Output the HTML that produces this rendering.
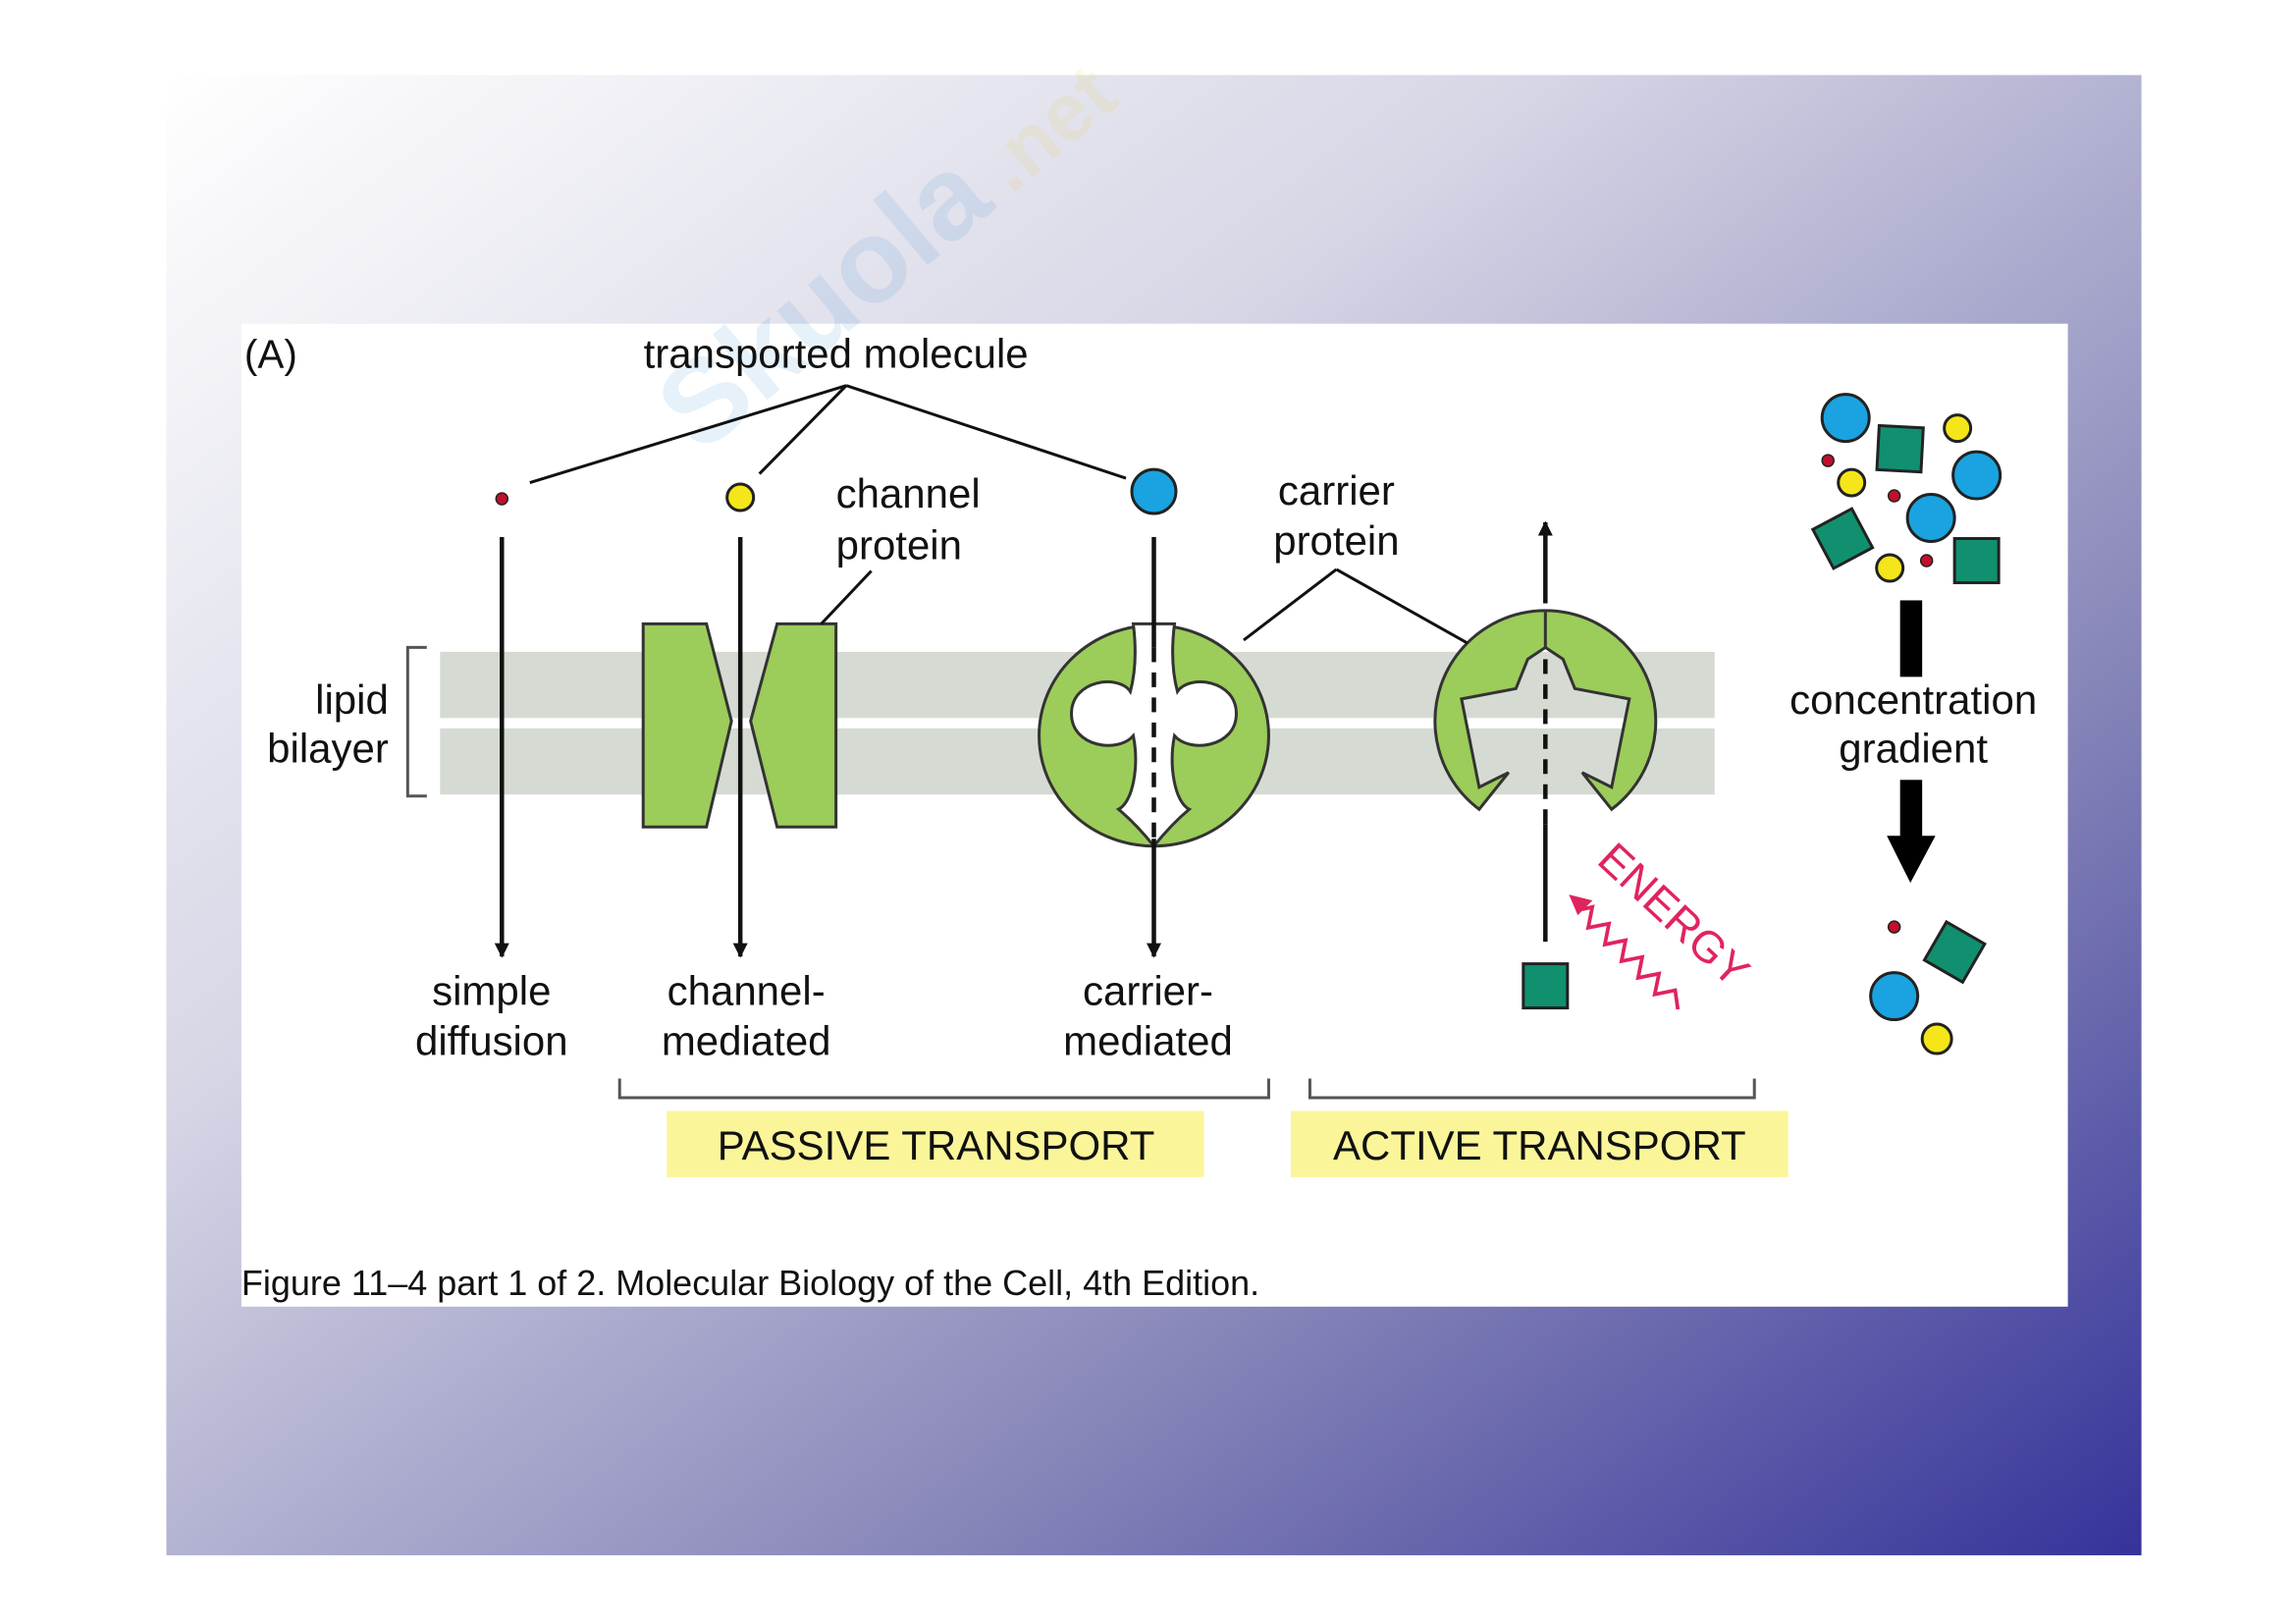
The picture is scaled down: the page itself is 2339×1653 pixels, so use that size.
<!DOCTYPE html>
<html><head><meta charset="utf-8"><style>
html,body{margin:0;padding:0;background:#fff;}
svg{display:block;}
text{font-family:"Liberation Sans",sans-serif;fill:#111;}
</style></head><body>
<svg width="2339" height="1653" viewBox="0 0 1560 1103" preserveAspectRatio="none" xmlns="http://www.w3.org/2000/svg">
<defs>
<linearGradient id="bg" x1="0" y1="0" x2="1" y2="1">
<stop offset="0" stop-color="#ffffff"/>
<stop offset="0.35" stop-color="#d6d6e6"/>
<stop offset="0.7" stop-color="#8584b8"/>
<stop offset="1" stop-color="#35339a"/>
</linearGradient>
<marker id="ah" viewBox="0 0 10 10" refX="9" refY="5" markerWidth="10" markerHeight="12" markerUnits="userSpaceOnUse" orient="auto"><path d="M0,0 L10,5 L0,10 z" fill="#111"/></marker>
</defs>
<rect x="113" y="51" width="1342" height="1006" fill="url(#bg)"/>
<rect x="164" y="220" width="1241" height="668" fill="#fff"/>
<!-- watermark -->
<g transform="translate(540,230) rotate(-40)" opacity="0.12">
<text x="-100" y="20" font-size="80" font-weight="bold" style="fill:#3a8fd0">Skuola</text>
<text x="175" y="20" font-size="55" font-weight="bold" style="fill:#e8d040">.net</text>
</g>
<text x="166" y="250" font-size="27">(A)</text>
<text x="568" y="250" font-size="28" text-anchor="middle">transported molecule</text>
<g stroke="#111" stroke-width="2" fill="none">
<line x1="575" y1="262" x2="360" y2="328"/>
<line x1="575" y1="262" x2="516" y2="322"/>
<line x1="575" y1="262" x2="765" y2="325"/>
</g>
<!-- bilayer -->
<rect x="299" y="443" width="866" height="45" fill="#d5dbd3"/>
<rect x="299" y="495" width="866" height="45" fill="#d5dbd3"/>
<path d="M290,440 H277 V541 H290" stroke="#555" stroke-width="2" fill="none"/>
<text x="264" y="485" font-size="28" text-anchor="end">lipid</text>
<text x="264" y="518" font-size="28" text-anchor="end">bilayer</text>
<!-- molecules -->
<circle cx="341" cy="339" r="4" fill="#c0102a" stroke="#222" stroke-width="1"/>
<circle cx="503" cy="338" r="9" fill="#f4e619" stroke="#222" stroke-width="2"/>
<circle cx="784" cy="334" r="15" fill="#1aa3e0" stroke="#222" stroke-width="2"/>
<!-- channel protein -->
<polygon points="437,424 480,424 497,490 480,562 437,562" fill="#9ccc5a" stroke="#333" stroke-width="2"/>
<polygon points="568,424 528,424 510,490 528,562 568,562" fill="#9ccc5a" stroke="#333" stroke-width="2"/>
<text x="568" y="345" font-size="28">channel</text>
<text x="568" y="380" font-size="28">protein</text>
<line x1="592" y1="388" x2="558" y2="424" stroke="#111" stroke-width="2"/>
<!-- carrier 1 -->
<ellipse cx="784" cy="500" rx="78" ry="75" fill="#9ccc5a" stroke="#333" stroke-width="2"/>
<path d="M770,424 C772,440 772,455 768,470 C760,458 728,462 728,485 C728,508 760,512 770,500 C774,520 770,545 760,550 C772,560 780,570 784,575 C788,570 796,560 808,550 C798,545 794,520 798,500 C808,512 840,508 840,485 C840,462 808,458 800,470 C796,455 796,440 798,424 Z" fill="#fff" stroke="#333" stroke-width="2"/>
<!-- carrier 2 -->
<path d="M1005,550 A75,75 0 1 1 1095,550 L1075,525 L1095,535 L1107,475 L1070,468 L1062,448 L1050,440 L1038,448 L1030,468 L993,475 L1005,535 L1025,525 Z" fill="#9ccc5a" stroke="#333" stroke-width="2"/>
<line x1="1050" y1="416" x2="1050" y2="440" stroke="#333" stroke-width="2"/>
<text x="908" y="343" font-size="28" text-anchor="middle">carrier</text>
<text x="908" y="377" font-size="28" text-anchor="middle">protein</text>
<g stroke="#111" stroke-width="2" fill="none">
<line x1="908" y1="387" x2="845" y2="435"/>
<line x1="908" y1="387" x2="997" y2="437"/>
</g>
<!-- arrows -->
<g stroke="#111" stroke-width="3" fill="none">
<line x1="341" y1="365" x2="341" y2="650" marker-end="url(#ah)"/>
<line x1="503" y1="365" x2="503" y2="650" marker-end="url(#ah)"/>
<line x1="784" y1="365" x2="784" y2="440"/>
<line x1="784" y1="440" x2="784" y2="570" stroke-dasharray="10,7"/>
<line x1="784" y1="570" x2="784" y2="650" marker-end="url(#ah)"/>
<line x1="1050" y1="640" x2="1050" y2="560"/>
<line x1="1050" y1="560" x2="1050" y2="445" stroke-dasharray="10,7"/>
<line x1="1050" y1="410" x2="1050" y2="355" marker-end="url(#ah)"/>
</g>
<rect x="1035" y="655" width="30" height="30" fill="#119070" stroke="#222" stroke-width="2"/>
<!-- energy -->
<text transform="translate(1084,586) rotate(43)" font-size="30" style="fill:#e0245e">ENERGY</text>
<polyline points="1075,618 1081.9,616.4 1079.1,630.5 1093.2,627.7 1090.4,641.9 1104.5,639 1101.7,653.2 1115.8,650.4 1113,664.5 1127.2,661.7 1124.3,675.8 1138.2,673 1140,686" fill="none" stroke="#e0245e" stroke-width="2.5"/>
<polygon points="1066,608 1082,612 1072,622" fill="#e0245e"/>
<!-- labels -->
<g font-size="28" text-anchor="middle">
<text x="334" y="683">simple</text><text x="334" y="717">diffusion</text>
<text x="507" y="683">channel-</text><text x="507" y="717">mediated</text>
<text x="780" y="683">carrier-</text><text x="780" y="717">mediated</text>
</g>
<path d="M421,733 V746 H862 V733" stroke="#555" stroke-width="2" fill="none"/>
<path d="M890,733 V746 H1192 V733" stroke="#555" stroke-width="2" fill="none"/>
<rect x="453" y="755" width="365" height="45" fill="#fbf59a"/>
<rect x="877" y="755" width="338" height="45" fill="#fbf59a"/>
<text x="636" y="788" font-size="28" text-anchor="middle">PASSIVE TRANSPORT</text>
<text x="1046" y="788" font-size="28" text-anchor="middle">ACTIVE TRANSPORT</text>
<!-- right side -->
<g stroke="#222" stroke-width="2">
<circle cx="1254" cy="284" r="16" fill="#1aa3e0"/>
<rect x="1276" y="290" width="30" height="30" fill="#119070" transform="rotate(3 1291 305)"/>
<circle cx="1330" cy="291" r="9" fill="#f4e619"/>
<circle cx="1242" cy="313" r="4" fill="#c0102a" stroke-width="1"/>
<circle cx="1258" cy="328" r="9" fill="#f4e619"/>
<circle cx="1287" cy="337" r="4" fill="#c0102a" stroke-width="1"/>
<circle cx="1343" cy="323" r="16" fill="#1aa3e0"/>
<circle cx="1312" cy="352" r="16" fill="#1aa3e0"/>
<rect x="1237" y="351" width="30" height="30" fill="#119070" transform="rotate(-28 1252 366)"/>
<circle cx="1284" cy="386" r="9" fill="#f4e619"/>
<circle cx="1309" cy="381" r="4" fill="#c0102a" stroke-width="1"/>
<rect x="1328" y="366" width="30" height="30" fill="#119070"/>
<circle cx="1287" cy="630" r="4" fill="#c0102a" stroke-width="1"/>
<rect x="1313" y="632" width="30" height="30" fill="#119070" transform="rotate(30 1328 647)"/>
<circle cx="1287" cy="677" r="16" fill="#1aa3e0"/>
<circle cx="1316" cy="706" r="10" fill="#f4e619"/>
</g>
<rect x="1291" y="408" width="15" height="52" fill="#000"/>
<rect x="1291" y="530" width="15" height="42" fill="#000"/>
<polygon points="1282,568 1315,568 1298,600" fill="#000"/>
<text x="1300" y="485" font-size="28" text-anchor="middle">concentration</text>
<text x="1300" y="518" font-size="28" text-anchor="middle">gradient</text>
<text x="164" y="880" font-size="24">Figure 11–4 part 1 of 2. Molecular Biology of the Cell, 4th Edition.</text>
</svg>
</body></html>
